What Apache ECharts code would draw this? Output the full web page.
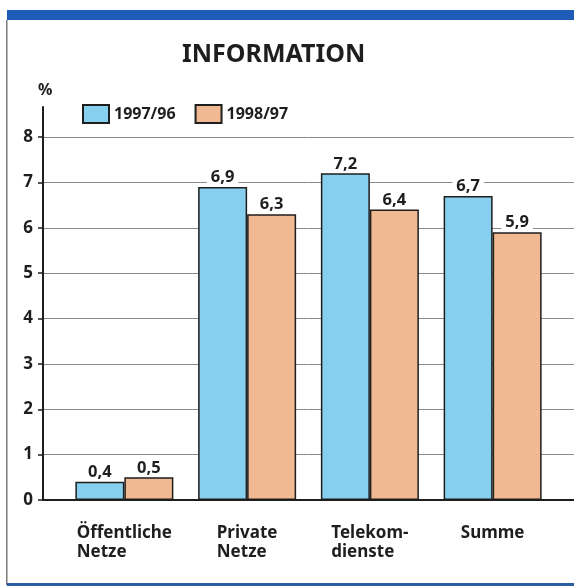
<!DOCTYPE html>
<html>
<head>
<meta charset="utf-8">
<script src="https://cdn.jsdelivr.net/npm/echarts@6/dist/echarts.min.js"></script>
<style>
  html, body { margin: 0; padding: 0; background: #fff; }
  #chart { width: 574px; height: 587px; }
</style>
</head>
<body>
<div id="chart"></div>
<script>
// data
const categories = ['Öffentliche\nNetze', 'Private\nNetze', 'Telekom-\ndienste', 'Summe']
const seriesNames = ['1997/96', '1998/97']
const values9796 = [0.4, 6.9, 7.2, 6.7]
const values9897 = [0.5, 6.3, 6.4, 5.9]
const yMin = 0
const yMax = 8
const yStep = 1

const FONT = '"Noto Sans", "DejaVu Sans", sans-serif'
const BLUE = '#86cfee'
const ORANGE = '#f1b991'
const INK = '#1e1e1e'

const chart = echarts.init(document.getElementById('chart'))

const fmt = v => String(v).replace('.', ',')

const makeSeries = (name, data, color) => ({
  name,
  type: 'bar',
  xAxisIndex: 2,
  yAxisIndex: 2,
  data,
  barWidth: 49,
  barGap: '0%',
  itemStyle: { color, borderColor: INK, borderWidth: 1.5 },
  label: {
    show: true,
    position: 'top',
    distance: 1,
    formatter: p => fmt(p.value),
    fontFamily: FONT,
    fontWeight: 'bold',
    fontSize: 16.5,
    color: INK,
    backgroundColor: '#fff',
    padding: [0, 4]
  }
})

const option = {
  animation: false,
  textStyle: { fontFamily: FONT },
  title: {
    text: 'INFORMATION',
    left: 177,
    top: 37,
    textStyle: { fontFamily: FONT, fontWeight: 'bold', fontSize: 25, color: INK }
  },
  legend: {
    data: seriesNames,
    icon: 'rect',
    left: 77,
    top: 99,
    itemWidth: 26,
    itemHeight: 18,
    itemGap: 19,
    textStyle: { fontFamily: FONT, fontWeight: 'bold', fontSize: 16, color: INK }
  },
  grid: [
    { left: 43, right: 0, top: 107, bottom: 87 },
    { left: 43, right: 0, top: 137, bottom: 87 },
    { left: 63, right: 20, top: 137, bottom: 87 }
  ],
  xAxis: [
    { gridIndex: 0, type: 'value', show: false },
    {
      gridIndex: 1, type: 'value', min: 0, max: 1,
      axisLine: { show: true, onZero: false, lineStyle: { color: INK, width: 2 } },
      axisTick: { show: false }, axisLabel: { show: false }, splitLine: { show: false }
    },
    {
      gridIndex: 2, type: 'category', data: categories,
      axisLine: { show: false }, axisTick: { show: false },
      axisLabel: {
        margin: 24,
        formatter: v => v.split('\n').map(s => '{a|' + s + '}').join('\n'),
        rich: {
          a: { align: 'left', fontFamily: FONT, fontWeight: 'bold', fontSize: 17, lineHeight: 19, color: INK }
        }
      }
    }
  ],
  yAxis: [
    {
      gridIndex: 0, type: 'value', min: 0, max: 1,
      name: '%', nameLocation: 'end', nameGap: 9,
      nameTextStyle: { fontFamily: FONT, fontWeight: 'bold', fontSize: 16, color: INK, align: 'left', padding: [0, 0, 0, -5] },
      axisLine: { show: true, lineStyle: { color: INK, width: 2 } },
      axisTick: { show: false }, axisLabel: { show: false }, splitLine: { show: false }
    },
    {
      gridIndex: 1, type: 'value', min: yMin, max: yMax, interval: yStep,
      axisLine: { show: false },
      axisTick: { show: true, length: 5, lineStyle: { color: INK, width: 1.5 } },
      axisLabel: { margin: 10, fontFamily: FONT, fontWeight: 'bold', fontSize: 17, color: INK },
      splitLine: { show: true, lineStyle: { color: '#8a8a8a', width: 1 } }
    },
    { gridIndex: 2, type: 'value', min: yMin, max: yMax, show: false }
  ],
  series: [
    makeSeries(seriesNames[0], values9796, BLUE),
    makeSeries(seriesNames[1], values9897, ORANGE)
  ],
  graphic: [
    { type: 'rect', shape: { x: 7, y: 10, width: 567, height: 10 }, style: { fill: '#1f5cb8' } },
    { type: 'rect', shape: { x: 6, y: 20, width: 1.5, height: 565 }, style: { fill: '#7a7a7a' } },
    { type: 'rect', shape: { x: 7, y: 583, width: 567, height: 3 }, style: { fill: '#2b5ca6' } }
  ]
}

chart.setOption(option)
</script>
</body>
</html>
